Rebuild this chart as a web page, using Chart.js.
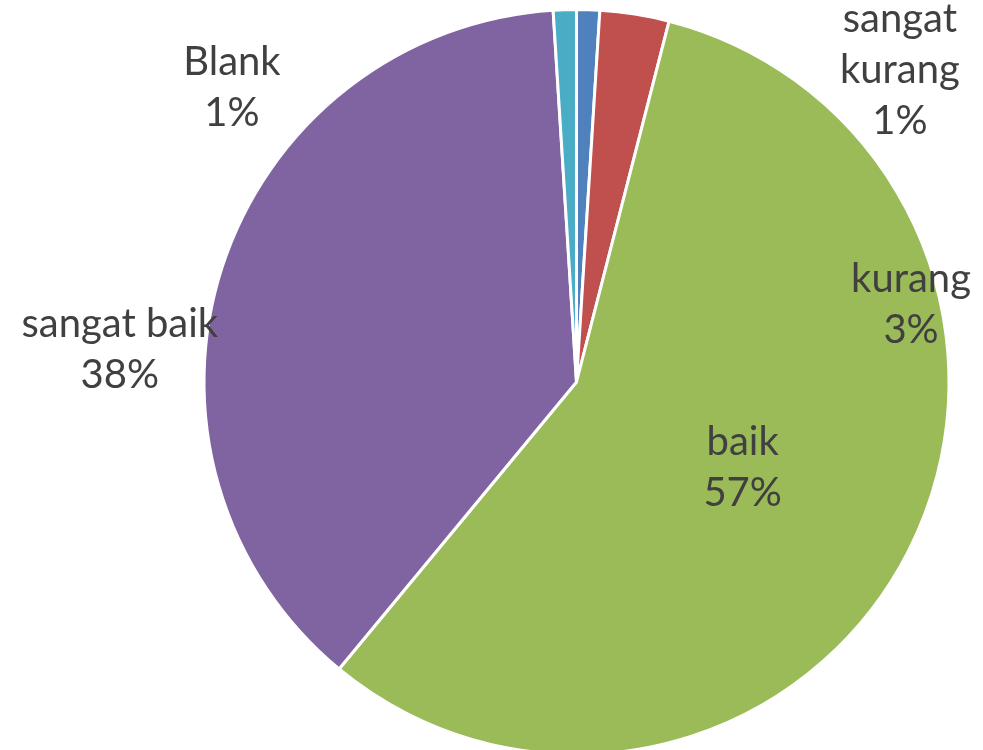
<!DOCTYPE html>
<html>
<head>
<meta charset="utf-8">
<script src="https://cdn.jsdelivr.net/npm/chart.js@4"></script>
<style>
  html, body { margin: 0; padding: 0; background: #fff; overflow: hidden; }
  #wrap { position: relative; width: 983px; height: 766px; }
</style>
</head>
<body>
<div id="wrap"><canvas id="pie"></canvas></div>
<script>
// Kategori dan nilai (persen), urutan searah jarum jam dari jam 12
const labels = ["sangat kurang", "kurang", "baik", "sangat baik", "Blank"];
const values = [1, 3, 57, 38, 1];
const colors = ["#4F81BD", "#C0504D", "#9BBB59", "#8064A2", "#4BACC6"];
// teks label per baris
const labelLines = [["sangat", "kurang", "1%"], ["kurang", "3%"], ["baik", "57%"], ["sangat baik", "38%"], ["Blank", "1%"]];
// posisi label relatif ke pusat, dalam satuan jari-jari
const labelPos = [[0.868, -0.836], [0.898, -0.207], [0.446, 0.231], [-1.226, -0.086], [-0.925, -0.790]];

const FONT = "40px Lato";
const LINE_H = 51;

const pieLabels = {
  id: "pieLabels",
  afterDatasetsDraw(chart) {
    const arc = chart.getDatasetMeta(0).data[0];
    const { x, y, outerRadius: r } = arc;
    const ctx = chart.ctx;
    ctx.save();
    ctx.font = FONT;
    ctx.fillStyle = "#404040";
    ctx.textAlign = "center";
    ctx.textBaseline = "middle";
    labelLines.forEach((lines, i) => {
      const cx = x + labelPos[i][0] * r;
      const cy = y + labelPos[i][1] * r;
      const top = cy - (lines.length - 1) * LINE_H / 2;
      lines.forEach((t, j) => ctx.fillText(t, cx, top + j * LINE_H));
    });
    ctx.restore();
  },
};

new Chart(document.getElementById("pie"), {
  type: "pie",
  data: {
    labels,
    datasets: [{ data: values, backgroundColor: colors, borderColor: "#fff", borderWidth: 3 }],
  },
  options: {
    responsive: true,
    maintainAspectRatio: false,
    animation: false,
    layout: { padding: { top: 8, bottom: 10, left: 170, right: 0 } },
    plugins: { legend: { display: false }, tooltip: { enabled: false } },
  },
  plugins: [pieLabels],
});
</script>
</body>
</html>
